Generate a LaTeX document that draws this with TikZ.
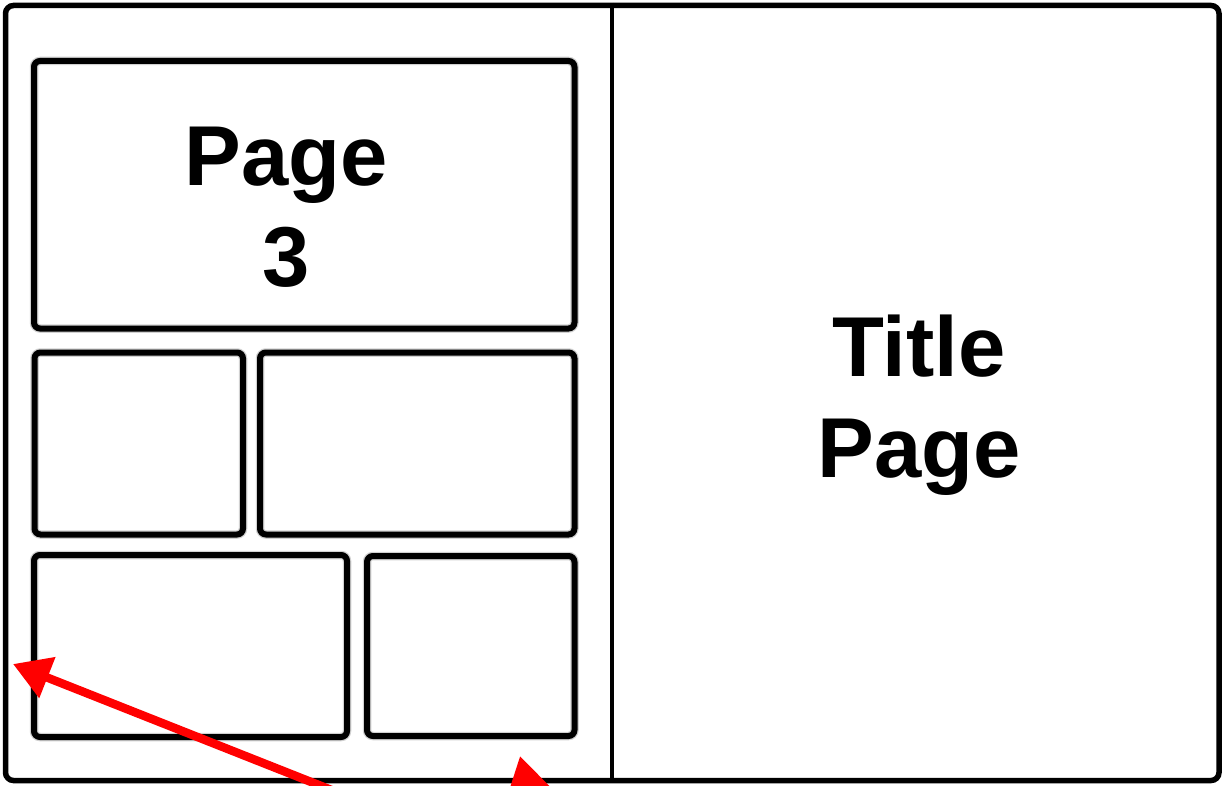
\documentclass[tikz,border=0pt]{standalone}
\usepackage{fontspec}
\setmainfont{Liberation Sans}
\usetikzlibrary{arrows.meta}
\begin{document}
\begin{tikzpicture}[x=1pt,y=-1pt,
  frame/.style={draw=black, line width=5.5pt, rounded corners=8pt, inner sep=0pt, outer sep=0pt},
  panel/.style={draw=black, line width=6pt, rounded corners=6pt, inner sep=0pt, outer sep=0pt,
    preaction={draw=black!18, line width=8.5pt}},
  label/.style={font=\bfseries\fontsize{85}{101}\selectfont, align=center, inner sep=0pt},
  redarrow/.style={draw=red, line width=8.5pt, -{Triangle[length=37pt,width=42pt]}}]
\useasboundingbox (0,0) rectangle (1225,786);
\fill[white] (0,0) rectangle (1225,786);
\begin{scope}
\clip (0,0) rectangle (1225,786);
% outer frame and divider
\node[frame, minimum width=1213.5pt, minimum height=775pt] (outer) at (612.25,393) {};
\coordinate (divtop) at (612,3);
\coordinate (divbot) at (612,783);
\draw[line width=4.5pt] (divtop) -- (divbot);
% left page panels
\node[panel, minimum width=540.5pt, minimum height=267.5pt] (p3) at (304.25,194.75) {};
\node[panel, minimum width=208.5pt, minimum height=182pt] (b1) at (138.75,443.5) {};
\node[panel, minimum width=314.5pt, minimum height=182pt] (b2) at (417.25,443.5) {};
\node[panel, minimum width=313pt, minimum height=182pt] (b3) at (190.5,646) {};
\node[panel, minimum width=207.5pt, minimum height=180pt] (b4) at (470.75,646) {};
% labels
\node[label] (t3) at (286,207) {Page\\3};
\node[label] (tt) at (919,405) {Title\\Page};
% red arrows
\coordinate (a1tail) at (392,814);
\coordinate (a1tip) at (13,664);
\coordinate (a2tail) at (540,840);
\coordinate (a2tip) at (520,756);
\draw[redarrow] (a1tail) -- (a1tip);
\draw[redarrow] (a2tail) -- (a2tip);
\end{scope}
\end{tikzpicture}
\end{document}
